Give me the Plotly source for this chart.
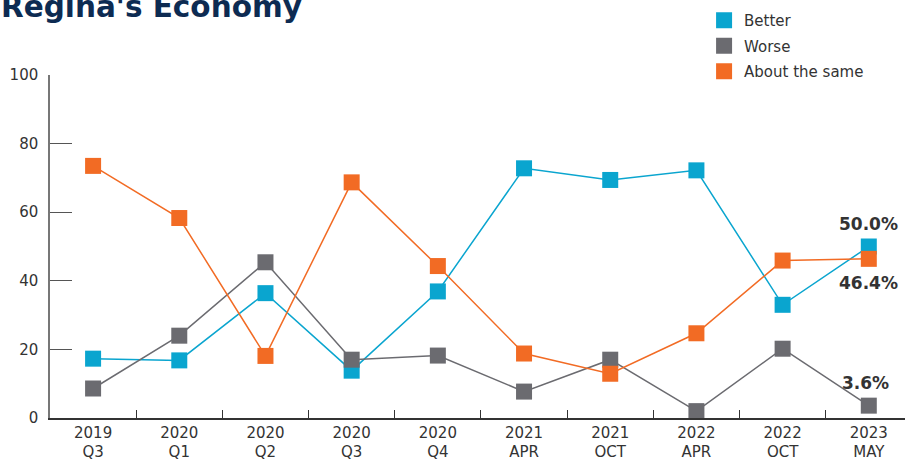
import plotly.graph_objects as go

categories = ["2019<br>Q3", "2020<br>Q1", "2020<br>Q2", "2020<br>Q3", "2020<br>Q4",
              "2021<br>APR", "2021<br>OCT", "2022<br>APR", "2022<br>OCT", "2023<br>MAY"]
better = [17.3, 16.8, 36.4, 13.8, 36.9, 72.8, 69.4, 72.2, 33.0, 50.0]
worse = [8.6, 24.0, 45.4, 17.0, 18.2, 7.7, 17.0, 2.0, 20.2, 3.6]
about_same = [73.5, 58.3, 18.1, 68.7, 44.3, 18.8, 12.9, 24.7, 45.9, 46.4]

series = [("Better", better, "#0aa5cf"),
          ("Worse", worse, "#6b6b70"),
          ("About the same", about_same, "#f26b24")]

FONT = "DejaVu Sans"
fig = go.Figure()
for name, vals, col in series:
    fig.add_trace(go.Scatter(x=categories, y=vals, mode="lines+markers", name=name,
                             line=dict(color=col, width=1.5),
                             marker=dict(symbol="square", size=16, color=col),
                             showlegend=False, cliponaxis=False))
for name, vals, col in series:
    fig.add_trace(go.Scatter(x=[None], y=[None], mode="markers", name=name,
                             legendgroup=name,
                             marker=dict(symbol="square", size=18, color=col)))

lab = dict(size=17, color="#333333", family=FONT)
fig.add_annotation(x=categories[-1], y=better[-1], text="<b>%.1f%%</b>" % better[-1],
                   showarrow=False, yshift=23, font=lab)
fig.add_annotation(x=categories[-1], y=about_same[-1], text="<b>%.1f%%</b>" % about_same[-1],
                   showarrow=False, yshift=-24, font=lab)
fig.add_annotation(x=categories[-1], y=worse[-1], text="<b>%.1f%%</b>" % worse[-1],
                   showarrow=False, yshift=23, xshift=-3, font=lab)

fig.add_annotation(xref="paper", yref="paper", x=-0.0585, y=1.146, xanchor="left", yanchor="bottom",
                   text="<b>Regina's Economy</b>", showarrow=False, borderpad=0,
                   font=dict(size=29.5, color="#0d2b52", family=FONT))

fig.update_layout(
    width=905, height=460,
    margin=dict(l=50, r=0, t=75, b=42, autoexpand=False),
    plot_bgcolor="white", paper_bgcolor="white",
    font=dict(family=FONT, size=15, color="#333333"),
    legend=dict(x=0.765, y=1.207, xanchor="left", yanchor="top", xref="paper",
                font=dict(size=15, color="#333333"), tracegroupgap=3,
                itemwidth=30, bgcolor="rgba(0,0,0,0)"),
    xaxis=dict(type="category", range=[-0.5, 9.42], showline=True, linecolor="#333333",
               linewidth=1.5, ticks="inside", tickson="boundaries", ticklen=8,
               tickcolor="#333333", showgrid=False, tickfont=dict(size=15)),
    yaxis=dict(range=[0, 100], dtick=20, showline=True, linecolor="#777777", linewidth=1.5,
               ticks="inside", ticklen=22, tickcolor="#555555", showgrid=False,
               zeroline=False, ticklabelstandoff=7, tickfont=dict(size=15)),
)
fig.write_html("out.html", config={"displayModeBar": False},
               post_script="document.body.style.margin='0';document.body.style.overflow='hidden';")
